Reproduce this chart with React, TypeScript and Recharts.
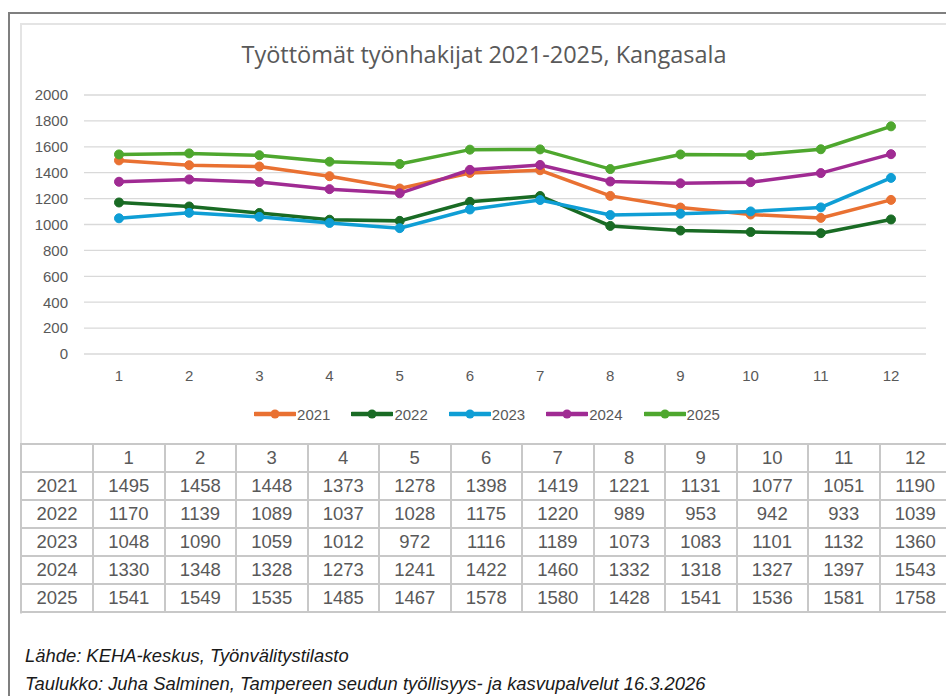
import React from 'react'
import { LineChart, Line, XAxis, YAxis, CartesianGrid, Legend } from 'recharts'

const months = ['1', '2', '3', '4', '5', '6', '7', '8', '9', '10', '11', '12']
const years = ['2021', '2022', '2023', '2024', '2025']
const yTicks = [0, 200, 400, 600, 800, 1000, 1200, 1400, 1600, 1800, 2000]

const v2021 = [1495, 1458, 1448, 1373, 1278, 1398, 1419, 1221, 1131, 1077, 1051, 1190]
const v2022 = [1170, 1139, 1089, 1037, 1028, 1175, 1220, 989, 953, 942, 933, 1039]
const v2023 = [1048, 1090, 1059, 1012, 972, 1116, 1189, 1073, 1083, 1101, 1132, 1360]
const v2024 = [1330, 1348, 1328, 1273, 1241, 1422, 1460, 1332, 1318, 1327, 1397, 1543]
const v2025 = [1541, 1549, 1535, 1485, 1467, 1578, 1580, 1428, 1541, 1536, 1581, 1758]

const seriesValues = [v2021, v2022, v2023, v2024, v2025]
const colors = ['#E97132', '#196B24', '#0F9ED5', '#A02B93', '#4EA72E']

const data = months.map((m, i) => {
  const row: { [key: string]: any } = { month: m }
  years.forEach((y, s) => {
    row[y] = seriesValues[s][i]
  })
  return row
})

const SANS = '"Liberation Sans", Arial, sans-serif'
const TEXT = '#595959'

const LegendContent = () => (
  <div
    style={{
      display: 'flex',
      justifyContent: 'center',
      alignItems: 'center',
      height: 24,
      paddingLeft: 28,
      fontFamily: SANS,
      fontSize: 15,
      color: TEXT,
    }}
  >
    {years.map((y, i) => (
      <div key={y} style={{ display: 'flex', alignItems: 'center', marginRight: i < years.length - 1 ? 21 : 0 }}>
        <svg width={42} height={14} style={{ marginRight: 1 }}>
          <line x1={1} y1={7} x2={41} y2={7} stroke={colors[i]} strokeWidth={4.5} strokeLinecap="round" />
          <circle cx={21} cy={7} r={4.5} fill={colors[i]} />
        </svg>
        <span>{y}</span>
      </div>
    ))}
  </div>
)

const cell: React.CSSProperties = {
  border: '2px solid #C8C8C8',
  padding: 0,
  textAlign: 'center',
  height: 26,
}

export default function App() {
  return (
    <div
      style={{
        position: 'absolute',
        left: 0,
        top: 0,
        width: 946,
        height: 696,
        background: '#fff',
        overflow: 'hidden',
      }}
    >
      <div
        style={{
          position: 'absolute',
          left: 8,
          top: 12,
          width: 960,
          height: 700,
          borderLeft: '2px solid #7F7F7F',
          borderTop: '2px solid #7F7F7F',
        }}
      />
      <div
        style={{
          position: 'absolute',
          left: 20,
          top: 23,
          width: 950,
          height: 589,
          borderLeft: '2px solid #E4E4E4',
          borderTop: '2px solid #E4E4E4',
        }}
      />
      <div
        style={{
          position: 'absolute',
          left: 0,
          top: 38,
          width: 968,
          textAlign: 'center',
          fontFamily: '"Open Sans", sans-serif',
          fontSize: 23.5,
          color: TEXT,
        }}
      >
        Työttömät työnhakijat 2021-2025, Kangasala
      </div>
      <div style={{ position: 'absolute', left: 0, top: 0 }}>
        <LineChart width={946} height={440} data={data} margin={{ top: 95, right: 20, left: 0, bottom: 14 }}>
          <CartesianGrid vertical={false} stroke="#D9D9D9" strokeWidth={1.3} />
          <XAxis
            dataKey="month"
            axisLine={false}
            tickLine={false}
            tickSize={0}
            tickMargin={16}
            height={48}
            padding={{ left: 35, right: 35 }}
            tick={{ fill: TEXT, fontSize: 15, fontFamily: SANS }}
            interval={0}
          />
          <YAxis
            width={84}
            domain={[0, 2000]}
            ticks={yTicks}
            axisLine={false}
            tickLine={false}
            tickSize={0}
            tickMargin={16}
            tick={{ fill: TEXT, fontSize: 15, fontFamily: SANS }}
          />
          <Legend verticalAlign="bottom" content={<LegendContent />} wrapperStyle={{ left: 0, width: 946 }} />
          {years.map((y, i) => (
            <Line
              key={y}
              type="linear"
              dataKey={y}
              stroke={colors[i]}
              strokeWidth={3.5}
              dot={{ r: 4.5, fill: colors[i], stroke: colors[i], strokeWidth: 1 }}
              activeDot={false}
              isAnimationActive={false}
            />
          ))}
        </LineChart>
      </div>
      <table
        style={{
          position: 'absolute',
          left: 20,
          top: 443,
          borderCollapse: 'collapse',
          tableLayout: 'fixed',
          width: 930,
          fontFamily: SANS,
          fontSize: 18.5,
          color: TEXT,
        }}
      >
        <colgroup>
          <col style={{ width: 72 }} />
          {months.map((m) => (
            <col key={m} style={{ width: 71.5 }} />
          ))}
        </colgroup>
        <tbody>
          <tr>
            <td style={cell} />
            {months.map((m) => (
              <td key={m} style={cell}>
                {m}
              </td>
            ))}
          </tr>
          {years.map((y, s) => (
            <tr key={y}>
              <td style={cell}>{y}</td>
              {seriesValues[s].map((v, i) => (
                <td key={i} style={cell}>
                  {v}
                </td>
              ))}
            </tr>
          ))}
        </tbody>
      </table>
      <div
        style={{
          position: 'absolute',
          left: 25,
          top: 642,
          fontFamily: SANS,
          fontStyle: 'italic',
          fontSize: 18.4,
          lineHeight: '28px',
          color: '#1a1a1a',
        }}
      >
        <div>Lähde: KEHA-keskus, Työnvälitystilasto</div>
        <div>Taulukko: Juha Salminen, Tampereen seudun työllisyys- ja kasvupalvelut 16.3.2026</div>
      </div>
    </div>
  )
}
